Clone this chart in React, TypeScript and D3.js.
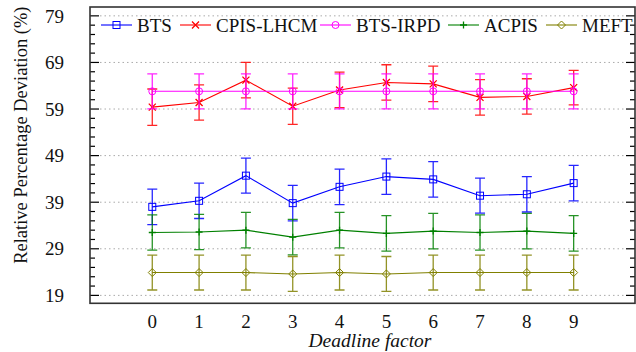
import React from "react";
import * as d3 from "d3";

const xValues = [0, 1, 2, 3, 4, 5, 6, 7, 8, 9];
const yTicks = [19, 29, 39, 49, 59, 69, 79];

const seriesNames = ["BTS", "CPIS-LHCM", "BTS-IRPD", "ACPIS", "MEFT"];
const btsMean = [38.0, 39.3, 44.7, 38.8, 42.3, 44.5, 43.9, 40.4, 40.7, 43.1];
const btsErr = [3.8, 3.8, 3.75, 3.8, 3.8, 3.8, 3.8, 3.75, 3.8, 3.8];
const cpisMean = [59.4, 60.4, 65.2, 59.6, 63.1, 64.7, 64.4, 61.5, 61.7, 63.6];
const cpisErr = [3.9, 3.8, 3.8, 3.9, 3.8, 3.8, 3.8, 3.8, 3.8, 3.7];
const irpdMean = [62.8, 62.8, 62.8, 62.8, 62.8, 62.8, 62.8, 62.8, 62.8, 62.8];
const irpdErr = [3.75, 3.75, 3.75, 3.75, 3.75, 3.75, 3.75, 3.75, 3.75, 3.75];
const acpisMean = [32.5, 32.6, 33.0, 31.5, 33.0, 32.3, 32.8, 32.5, 32.8, 32.3];
const acpisErr = [3.8, 3.8, 3.8, 3.8, 3.8, 3.8, 3.8, 3.8, 3.8, 3.8];
const meftMean = [23.9, 23.9, 23.9, 23.6, 23.9, 23.6, 23.9, 23.9, 23.9, 23.9];
const meftErr = [3.75, 3.75, 3.75, 3.75, 3.75, 3.75, 3.75, 3.75, 3.75, 3.75];

const colors = ["#0000ff", "#ff0000", "#ff00ff", "#008000", "#808000"];
const markers = ["square", "cross", "circle", "plus", "diamond"];
const legendX = [101, 180, 320, 448, 546];

const means = [btsMean, cpisMean, irpdMean, acpisMean, meftMean];
const errs = [btsErr, cpisErr, irpdErr, acpisErr, meftErr];

const W = 636;
const H = 352;
const left = 90;
const right = 635;
const top = 7;
const bottom = 303.3;

const x = d3.scaleLinear().domain([-1.33, 10.31]).range([left, right]);
const y = d3.scaleLinear().domain([17.3, 80.9]).range([bottom, top]);

const FONT = "Times New Roman, Liberation Serif, Times, DejaVu Serif, serif";

function Marker({ type, cx, cy, color }: { type: string; cx: number; cy: number; color: string }) {
  const s = 3.5;
  if (type === "square")
    return <rect x={cx - s} y={cy - s} width={2 * s} height={2 * s} fill="none" stroke={color} strokeWidth={1} />;
  if (type === "circle") return <circle cx={cx} cy={cy} r={s} fill="none" stroke={color} strokeWidth={1} />;
  if (type === "cross")
    return (
      <path d={`M${cx - s},${cy - s}L${cx + s},${cy + s}M${cx - s},${cy + s}L${cx + s},${cy - s}`} stroke={color} strokeWidth={1.3} />
    );
  if (type === "plus")
    return <path d={`M${cx - s},${cy}L${cx + s},${cy}M${cx},${cy - s}L${cx},${cy + s}`} stroke={color} strokeWidth={1.3} />;
  return (
    <path d={`M${cx},${cy - s - 0.5}L${cx + s + 0.5},${cy}L${cx},${cy + s + 0.5}L${cx - s - 0.5},${cy}Z`} fill="none" stroke={color} strokeWidth={1} />
  );
}

export default function App() {
  const minorTicks = d3.range(19, 81, 2).filter((v) => (v - 19) % 10 !== 0);
  const line = d3
    .line<number>()
    .x((_, i) => x(xValues[i]))
    .y((d) => y(d));
  return (
    <div style={{ fontFamily: FONT }}>
    <svg width={W} height={H} fontFamily={FONT} style={{ position: "absolute", left: 0, top: 0 }}>
      <rect x={0} y={0} width={W} height={H} fill="#fff" />
      {yTicks.map((t) => (
        <line key={"g" + t} x1={left + 10} x2={right - 9} y1={y(t)} y2={y(t)} stroke="#aaa" strokeWidth={1} strokeDasharray="1.5,3" />
      ))}
      {yTicks.map((t) => (
        <g key={"t" + t}>
          <line x1={left} x2={left + 9} y1={y(t)} y2={y(t)} stroke="#000" strokeWidth={1.2} />
          <line x1={right - 9} x2={right} y1={y(t)} y2={y(t)} stroke="#000" strokeWidth={1.2} />
          <text x={64} y={y(t)} dy="0.35em" textAnchor="end" fontSize={19} fill="#111">
            {t}
          </text>
        </g>
      ))}
      {minorTicks.map((t) => (
        <g key={"m" + t}>
          <line x1={left} x2={left + 5} y1={y(t)} y2={y(t)} stroke="#000" strokeWidth={1.2} />
          <line x1={right - 5} x2={right} y1={y(t)} y2={y(t)} stroke="#000" strokeWidth={1.2} />
        </g>
      ))}
      {xValues.map((v) => (
        <text key={"x" + v} x={x(v)} y={328} textAnchor="middle" fontSize={19} fill="#111">
          {v}
        </text>
      ))}
      {means.map((m, si) => (
        <g key={"s" + si}>
          {m.map((v, i) => {
            const cx = x(xValues[i]);
            const e = errs[si][i];
            return (
              <path
                key={"e" + i}
                d={`M${cx},${y(v - e)}L${cx},${y(v + e)}M${cx - 5},${y(v - e)}L${cx + 5},${y(v - e)}M${cx - 5},${y(v + e)}L${cx + 5},${y(v + e)}`}
                stroke={colors[si]}
                strokeWidth={1.3}
                fill="none"
                opacity={0.85}
              />
            );
          })}
          <path d={line(m) || ""} fill="none" stroke={colors[si]} strokeWidth={1.1} />
          {m.map((v, i) => (
            <Marker key={"k" + i} type={markers[si]} cx={x(xValues[i])} cy={y(v)} color={colors[si]} />
          ))}
        </g>
      ))}
      {seriesNames.map((n, i) => (
        <g key={"l" + i}>
          <line x1={legendX[i]} x2={legendX[i] + 31} y1={25} y2={25} stroke={colors[i]} strokeWidth={1.1} />
          <Marker type={markers[i]} cx={legendX[i] + 15.5} cy={25} color={colors[i]} />
          <text x={legendX[i] + 36} y={25} dy="0.35em" fontSize={19} fill="#111">
            {n}
          </text>
        </g>
      ))}
      <rect x={left} y={top} width={right - left} height={bottom - top} fill="none" stroke="#333" strokeWidth={1.6} />
      <text
        transform={`translate(27,${(top + bottom) / 2 - 20}) rotate(-90)`}
        textAnchor="middle"
        fontSize={18.5}
        fill="#111"
      >
        Relative Percentage Deviation (%)
      </text>
      <text x={370} y={347} textAnchor="middle" fontSize={19.5} fontStyle="italic" fill="#111">
        Deadline factor
      </text>
    </svg>
    </div>
  );
}
